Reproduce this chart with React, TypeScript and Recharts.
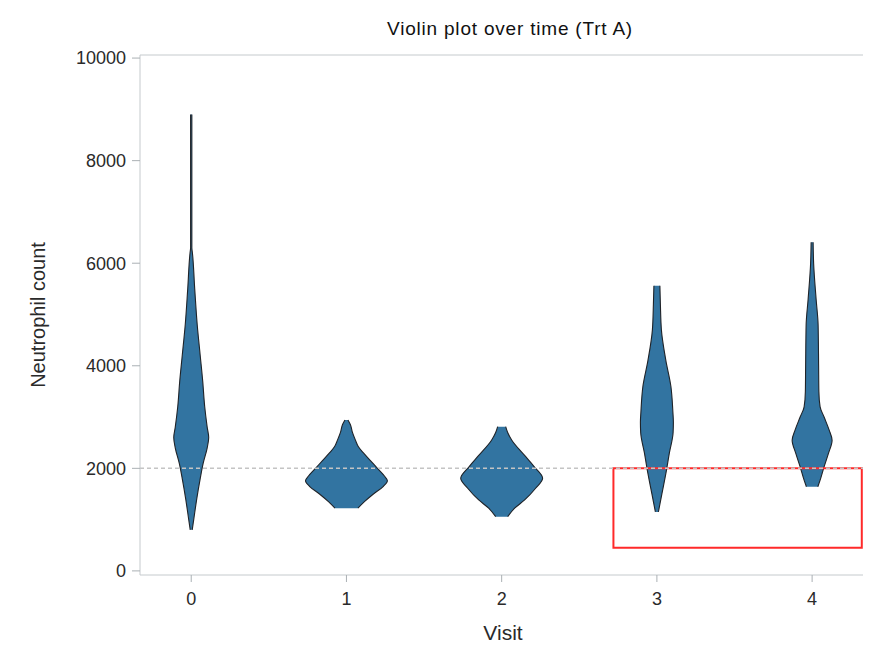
import React from 'react';
import { ComposedChart, Area, XAxis, YAxis, ReferenceLine, ReferenceArea } from 'recharts';

// ---- data ----
const visits = [0, 1, 2, 3, 4];
const yTicks = [0, 2000, 4000, 6000, 8000, 10000];

// violin profiles: neutrophil level and density half-width (in visit units)
const v0Levels = [800, 1000, 1400, 1800, 2100, 2400, 2600, 2800, 3200, 3700, 4200, 4800, 5500, 6200, 6300, 8900];
const v0Half = [0.0064, 0.0161, 0.0354, 0.0579, 0.0772, 0.103, 0.1126, 0.103, 0.0869, 0.074, 0.0579, 0.0386, 0.0225, 0.0077, 0.004, 0.004];

const v1Levels = [1222, 1350, 1500, 1650, 1760, 1850, 2000, 2150, 2300, 2420, 2550, 2700, 2850, 2943];
const v1Half = [0.074, 0.1158, 0.1737, 0.2381, 0.2638, 0.2445, 0.1995, 0.1544, 0.1094, 0.0772, 0.0579, 0.0386, 0.0257, 0.0097];

const v2Levels = [1058, 1222, 1384, 1612, 1807, 2034, 2261, 2554, 2700, 2813];
const v2Half = [0.0386, 0.0837, 0.148, 0.2188, 0.2638, 0.2091, 0.1448, 0.0644, 0.0386, 0.0257];

const v3Levels = [1150, 1500, 1900, 2300, 2700, 2900, 3100, 3600, 4100, 4700, 5200, 5560];
const v3Half = [0.0097, 0.0322, 0.0579, 0.0804, 0.1045, 0.1062, 0.103, 0.0901, 0.0579, 0.029, 0.0225, 0.0193];

const v4Levels = [1640, 1800, 2000, 2300, 2550, 2750, 3000, 3200, 3500, 4000, 4800, 5300, 6000, 6410];
const v4Half = [0.0367, 0.0547, 0.074, 0.1062, 0.1287, 0.1094, 0.0772, 0.0515, 0.0435, 0.0418, 0.0386, 0.0257, 0.0097, 0.0064];

const referenceLevel = 2000;
const highlightX = [2.72, 4.32];
const highlightY = [450, 2000];

const xDomain = [-0.33, 4.36];
const yDomain = [-80, 10060];

const profiles: [number[], number[]][] = [
  [v0Levels, v0Half],
  [v1Levels, v1Half],
  [v2Levels, v2Half],
  [v3Levels, v3Half],
  [v4Levels, v4Half],
];

const allLevels = Array.from(new Set(profiles.flatMap(p => p[0]))).sort((a, b) => a - b);
const rows = allLevels.map(y => {
  const row: Record<string, any> = { y };
  profiles.forEach(([lv, hw], i) => {
    const k = lv.indexOf(y);
    row['v' + i] = k >= 0 ? [visits[i] - hw[k], visits[i] + hw[k]] : [null, null];
  });
  return row;
});

const FONT = '"Liberation Sans", Arial, Helvetica, sans-serif';
const tickStyle = { fontSize: 18, fill: '#2a2a2a', fontFamily: FONT };
const FRAME = '#c5cacd';

export default function App() {
  return (
    <div style={{ position: 'relative', width: 871, height: 658, margin: -8, background: '#fff', fontFamily: FONT }}>
      <div style={{ position: 'absolute', left: 0, top: 0, width: 866, height: 652, boxSizing: 'border-box', borderTop: '2px solid #e6e6e6', borderLeft: '2px solid #e6e6e6', marginTop: 6, marginLeft: 5 }} />
      <ComposedChart
        width={871}
        height={658}
        data={rows}
        layout="vertical"
        margin={{ top: 54, right: 2, bottom: 53, left: 40 }}
        style={{ position: 'absolute', left: 0, top: 0 }}
      >
        <XAxis
          type="number"
          domain={xDomain}
          ticks={visits}
          allowDataOverflow
          height={30}
          tick={tickStyle}
          tickLine={{ stroke: '#aab0b4' }}
          tickSize={7}
          tickMargin={10}
          axisLine={{ stroke: FRAME }}
          interval={0}
        />
        <XAxis xAxisId="top" orientation="top" type="number" domain={xDomain} allowDataOverflow tick={false} tickLine={false} height={1} axisLine={{ stroke: FRAME }} />
        <YAxis
          type="number"
          dataKey="y"
          domain={yDomain}
          ticks={yTicks}
          reversed
          allowDataOverflow
          width={100}
          tick={tickStyle}
          tickLine={{ stroke: '#aab0b4' }}
          tickSize={8}
          tickMargin={6}
          axisLine={{ stroke: FRAME }}
          interval={0}
        />
        <YAxis yAxisId="right" orientation="right" type="number" domain={yDomain} reversed allowDataOverflow tick={false} tickLine={false} width={1} axisLine={{ stroke: FRAME }} />
        {visits.map(v => (
          <Area
            key={v}
            dataKey={'v' + v}
            type="monotone"
            connectNulls
            fill="#3274a1"
            fillOpacity={1}
            stroke="#1f2328"
            strokeWidth={1.1}
            dot={false}
            activeDot={false}
            isAnimationActive={false}
          />
        ))}
        <ReferenceLine y={referenceLevel} stroke="#c4c4c4" strokeWidth={1.5} strokeDasharray="4 3" />
        <ReferenceArea x1={highlightX[0]} x2={highlightX[1]} y1={highlightY[0]} y2={highlightY[1]} fill="none" fillOpacity={0} stroke="#ff2a2a" strokeWidth={2} ifOverflow="visible" />
      </ComposedChart>
      <div style={{ position: 'absolute', left: 260, width: 500, top: 18, textAlign: 'center', fontSize: 19, letterSpacing: 0.8, color: '#111' }}>
        Violin plot over time (Trt A)
      </div>
      <div style={{ position: 'absolute', left: 453, width: 100, top: 621, textAlign: 'center', fontSize: 21, color: '#2a2a2a' }}>
        Visit
      </div>
      <div style={{ position: 'absolute', left: 38, top: 315, width: 0, height: 0 }}>
        <div style={{ position: 'absolute', transform: 'translate(-50%, -50%) rotate(-90deg)', whiteSpace: 'nowrap', fontSize: 20, color: '#2a2a2a' }}>
          Neutrophil count
        </div>
      </div>
    </div>
  );
}
